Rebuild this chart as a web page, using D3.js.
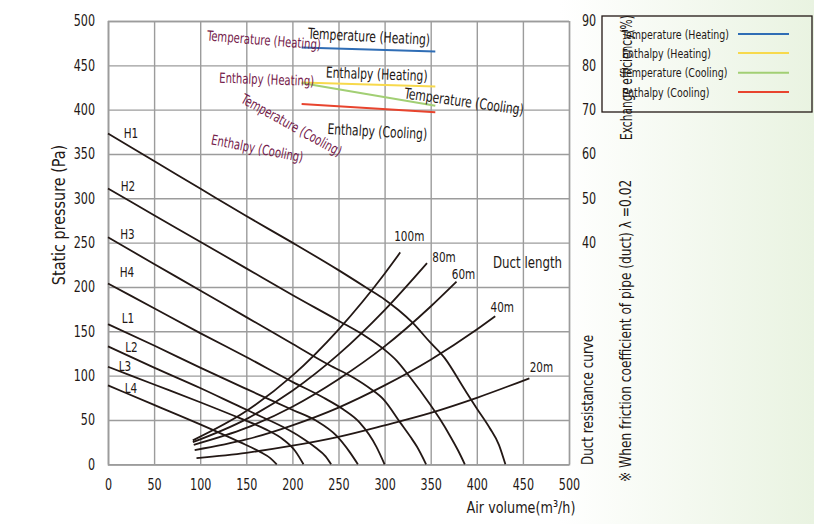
<!DOCTYPE html>
<html>
<head>
<meta charset="utf-8">
<script src="https://cdn.jsdelivr.net/npm/d3@7"></script>
<style>
  html, body { margin: 0; padding: 0; background: #fff; }
  svg text { font-family: "Liberation Sans Narrow", "DejaVu Sans Condensed", "DejaVu Sans", sans-serif; font-stretch: condensed; fill: #231815; }
</style>
</head>
<body>
<svg id="chart" width="814" height="524"></svg>
<script>
// Axis ticks
const volumeTicks = [0, 50, 100, 150, 200, 250, 300, 350, 400, 450, 500];
const pressureTicks = [0, 50, 100, 150, 200, 250, 300, 350, 400, 450, 500];
const efficiencyTicks = [40, 50, 60, 70, 80, 90];

// Fan characteristic curves: [air volume m3/h, static pressure Pa]
const fanNames = ["H1", "H2", "H3", "H4", "L1", "L2", "L3", "L4"];
const fanH1 = [[0,373],[50,342],[100,311],[150,280],[200,250],[250,219],[282,198],[300,186],[315,174],[330,160],[349,138],[365,120],[387,84],[400,63],[414,41],[424,22],[431,0]];
const fanH2 = [[0,311],[50,281],[100,251],[150,221],[200,191],[250,162],[280,144],[299,130],[313,117],[327,99],[349,68],[360,51],[371,32],[380,15],[387,0]];
const fanH3 = [[0,256],[50,226],[100,196],[150,166],[200,136],[240,112],[266,98],[285,85],[299,73],[317,47],[328,31],[335,20],[345,0]];
const fanH4 = [[0,204],[50,176],[100,148],[150,121],[200,93],[234,75],[255,62],[273,47],[291,20],[300,0]];
const fanL1 = [[0,158],[50,134],[100,109],[150,85],[201,61],[226,49],[248,32],[262,14],[271,0]];
const fanL2 = [[0,133],[50,109],[100,86],[143,65],[170,52],[190,42],[210,30],[225,19],[236,9],[242,0]];
const fanL3 = [[0,110],[50,90],[100,70],[143,52],[170,40],[190,28],[203,15],[212,0]];
const fanL4 = [[0,89],[50,67],[100,45],[143,25],[165,14],[176,7],[183,0]];
const fanCurves = [fanH1, fanH2, fanH3, fanH4, fanL1, fanL2, fanL3, fanL4];

// Duct resistance curves by duct length
const ductNames = ["100m", "80m", "60m", "40m", "20m"];
const duct100 = [[92,27],[150,60],[200,100],[250,152],[300,215],[317,239]];
const duct80 = [[92,25],[150,51],[200,83],[250,124],[300,174],[346,227]];
const duct60 = [[93,22],[150,41],[200,65],[250,96],[300,133],[350,178],[378,206]];
const duct40 = [[94,16],[150,28],[200,44],[250,64],[300,89],[350,118],[400,152],[420,167]];
const duct20 = [[96,7],[150,13],[200,21],[250,31],[300,44],[350,58],[400,75],[457,97]];
const ductCurves = [duct100, duct80, duct60, duct40, duct20];

// Exchange efficiency (%) against air volume
const effNames = ["Temperature (Heating)", "Enthalpy (Heating)", "Temperature (Cooling)", "Enthalpy (Cooling)"];
const effVolume = [210, 355];
const effTempHeating = [84.0, 83.1];
const effEnthHeating = [76.1, 75.2];
const effTempCooling = [76.0, 70.9];
const effEnthCooling = [71.3, 69.4];
const effSeries = [effTempHeating, effEnthHeating, effTempCooling, effEnthCooling];
const effColors = ["#2f6db5", "#f7d94c", "#a2cf74", "#e8442e"];

const svg = d3.select("#chart");
const ink = "#231815";
const maroon = "#74204a";
const gridColor = "#9c9c9c";

// Narrow the available condensed face further so labels keep the tall, tight look
function condense(sel, k) {
  sel.each(function () {
    const len = this.getComputedTextLength();
    d3.select(this).attr("textLength", len * k).attr("lengthAdjust", "spacingAndGlyphs");
  });
}

// Background tint on the right side
const defs = svg.append("defs");
const grad = defs.append("linearGradient").attr("id", "bg").attr("gradientUnits", "userSpaceOnUse")
  .attr("x1", 560).attr("y1", 0).attr("x2", 814).attr("y2", 0);
grad.append("stop").attr("offset", "0").attr("stop-color", "#ffffff");
grad.append("stop").attr("offset", "1").attr("stop-color", "#e9f3e1");
svg.append("rect").attr("width", 814).attr("height", 524).attr("fill", "url(#bg)");

const x = d3.scaleLinear().domain([0, 500]).range([108, 569]);
const y = d3.scaleLinear().domain([0, 500]).range([464.3, 21]);
const yR = d3.scaleLinear().domain([40, 90]).range([y(250), y(500)]);

svg.append("rect").attr("x", x(0)).attr("y", y(500)).attr("width", x(500) - x(0)).attr("height", y(0) - y(500)).attr("fill", "#fff");

// Grid + axes
const gx = svg.append("g").attr("transform", `translate(0,${y(0)})`)
  .call(d3.axisBottom(x).tickValues(volumeTicks).tickSize(-(y(0) - y(500))).tickPadding(15).tickFormat(d3.format("d")));
const gy = svg.append("g").attr("transform", `translate(${x(0)},0)`)
  .call(d3.axisLeft(y).tickValues(pressureTicks).tickSize(-(x(500) - x(0))).tickPadding(13).tickFormat(d3.format("d")));
[gx, gy].forEach(g => {
  g.select(".domain").attr("stroke", gridColor).attr("stroke-width", 1.4);
  g.selectAll(".tick line").attr("stroke", gridColor).attr("stroke-width", 1.4);
  g.selectAll(".tick text").attr("font-size", 15.5).attr("fill", ink).call(condense, 0.8);
});
const gr = svg.append("g").attr("transform", `translate(${x(500)},0)`)
  .call(d3.axisRight(yR).tickValues(efficiencyTicks).tickSize(0).tickPadding(13).tickFormat(d3.format("d")));
gr.select(".domain").remove();
gr.selectAll(".tick text").attr("font-size", 15.5).attr("fill", ink).call(condense, 0.8);

const line = d3.line().x(d => x(d[0])).y(d => y(d[1])).curve(d3.curveMonotoneX);

// Fan curves
svg.append("g").selectAll("path").data(fanCurves).join("path")
  .attr("d", line).attr("fill", "none").attr("stroke", ink).attr("stroke-width", 1.8);

// Duct resistance curves
svg.append("g").selectAll("path").data(ductCurves).join("path")
  .attr("d", line).attr("fill", "none").attr("stroke", ink).attr("stroke-width", 1.8);

// Fan labels
const fanLabelPos = [[131,133],[128,186],[127.5,234],[127,271.5],[128,318],[131.5,347],[125,366],[131,388]];
svg.append("g").selectAll("text").data(fanNames).join("text")
  .attr("x", (d, i) => fanLabelPos[i][0]).attr("y", (d, i) => fanLabelPos[i][1])
  .attr("text-anchor", "middle").attr("dominant-baseline", "central").attr("font-size", 14.5).text(d => d)
  .call(condense, 0.8);

// Duct length labels, offset from each curve end
const ductLabelOffset = [[9,-16],[17,-6],[7,-8],[7,-9],[12,-11]];
svg.append("g").selectAll("text").data(ductNames).join("text")
  .attr("x", (d, i) => { const p = ductCurves[i][ductCurves[i].length - 1]; return x(p[0]) + ductLabelOffset[i][0]; })
  .attr("y", (d, i) => { const p = ductCurves[i][ductCurves[i].length - 1]; return y(p[1]) + ductLabelOffset[i][1]; })
  .attr("text-anchor", "middle").attr("dominant-baseline", "central").attr("font-size", 14.5).text(d => d)
  .call(condense, 0.8);
svg.append("text").attr("x", 527.5).attr("y", 262.5).attr("text-anchor", "middle").attr("dominant-baseline", "central")
  .attr("font-size", 16).text("Duct length").call(condense, 0.82);

// Efficiency lines
const effLine = d3.line().x((d, i) => x(effVolume[i])).y(d => yR(d));
svg.append("g").selectAll("path").data(effSeries).join("path")
  .attr("d", effLine).attr("fill", "none").attr("stroke", (d, i) => effColors[i]).attr("stroke-width", 2);

// Efficiency line captions
const captionsDark = [[369,36.7,3], [376.7,74.3,2], [464,101.7,8], [377.3,131.7,3]];
const captionsMaroon = [[264,40,4.5], [266.7,79.3,2], [291.7,125,29], [257.3,148.3,11]];
svg.append("g").selectAll("text").data(effNames).join("text")
  .attr("transform", (d, i) => `translate(${captionsMaroon[i][0]},${captionsMaroon[i][1]}) rotate(${captionsMaroon[i][2]})`)
  .attr("text-anchor", "middle").attr("dominant-baseline", "central").attr("font-size", 14)
  .style("fill", maroon).text(d => d).call(condense, 0.8);
svg.append("g").selectAll("text").data(effNames).join("text")
  .attr("transform", (d, i) => `translate(${captionsDark[i][0]},${captionsDark[i][1]}) rotate(${captionsDark[i][2]})`)
  .attr("text-anchor", "middle").attr("dominant-baseline", "central").attr("font-size", 15).text(d => d)
  .call(condense, 0.8);

// Axis titles
svg.append("text").attr("transform", "translate(65,215) rotate(-90)").attr("text-anchor", "middle")
  .attr("font-size", 17).text("Static pressure (Pa)").call(condense, 0.94);
svg.append("text").attr("x", 521).attr("y", 513).attr("text-anchor", "middle").attr("font-size", 16.5)
  .text("Air volume(m³/h)").call(condense, 0.86);

// Legend
const lg = svg.append("g");
lg.append("rect").attr("x", 602).attr("y", 16).attr("width", 210).attr("height", 96)
  .attr("fill", "url(#bg)").attr("stroke", ink).attr("stroke-width", 1.3);
const legendY = [34, 53, 72.7, 92];
lg.selectAll("text").data(effNames).join("text")
  .attr("x", 622).attr("y", (d, i) => legendY[i]).attr("dominant-baseline", "central")
  .attr("font-size", 12.5).text(d => d).call(condense, 0.84);
lg.selectAll("line").data(effColors).join("line")
  .attr("x1", 738).attr("x2", 789).attr("y1", (d, i) => legendY[i]).attr("y2", (d, i) => legendY[i])
  .attr("stroke", d => d).attr("stroke-width", 2);

// Right-hand titles (narrowed along the reading direction)
svg.append("text").attr("transform", "translate(632,140) rotate(-90) scale(0.74,1)").attr("text-anchor", "start")
  .attr("font-size", 16).text("Exchange efficiency(%)");
svg.append("text").attr("transform", "translate(593,465) rotate(-90) scale(0.83,1)").attr("text-anchor", "start")
  .attr("font-size", 16).text("Duct resistance curve");
svg.append("text").attr("transform", "translate(631,482) rotate(-90) scale(0.85,1)").attr("text-anchor", "start")
  .attr("font-size", 16).text("※ When friction coefficient of pipe (duct) λ =0.02");
</script>
</body>
</html>
